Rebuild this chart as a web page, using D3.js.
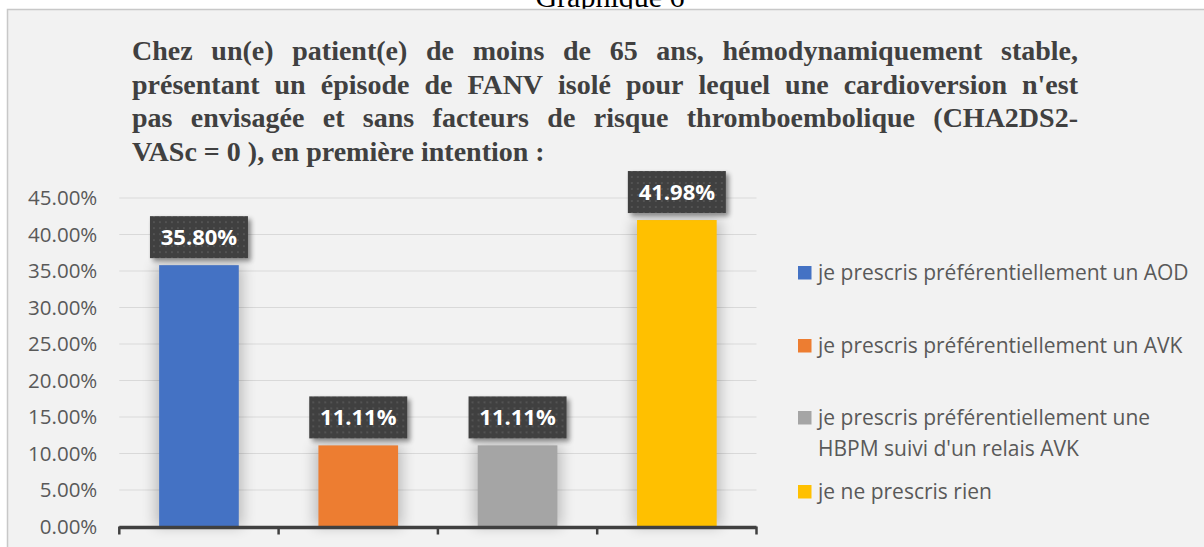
<!DOCTYPE html>
<html>
<head>
<meta charset="utf-8">
<script src="https://cdn.jsdelivr.net/npm/d3@7"></script>
<style>
  body { margin: 0; background: #fff; }
  svg { display: block; }
</style>
</head>
<body>
<div id="chart"></div>
<script>
// data
var categories = [
    "je prescris préférentiellement un AOD",
    "je prescris préférentiellement un AVK",
    "je prescris préférentiellement une HBPM suivi d'un relais AVK",
    "je ne prescris rien"
];
var values = [35.80, 11.11, 11.11, 41.98];
var legendLines = [
    ["je prescris préférentiellement un AOD"],
    ["je prescris préférentiellement un AVK"],
    ["je prescris préférentiellement une", "HBPM suivi d'un relais AVK"],
    ["je ne prescris rien"]
];
var yTicks = [0, 5, 10, 15, 20, 25, 30, 35, 40, 45];
var colors = ["#4472c4", "#ed7d31", "#a5a5a5", "#ffc000"];
var titleLines = [
    "Chez un(e) patient(e) de moins de 65 ans, hémodynamiquement stable,",
    "présentant un épisode de FANV isolé pour lequel une cardioversion n'est",
    "pas envisagée et sans facteurs de risque thromboembolique (CHA2DS2-",
    "VASc = 0 ), en première intention :"
];
var heading = "Graphique 6";

var W = 1204, H = 547;
var svg = d3.select("#chart").append("svg")
    .attr("width", W)
    .attr("height", H);

var defs = svg.append("defs");

var glow = defs.append("filter").attr("id", "glow")
    .attr("x", "-50%").attr("y", "-20%").attr("width", "200%").attr("height", "140%");
glow.append("feGaussianBlur").attr("in", "SourceGraphic").attr("stdDeviation", 7);

var shadow = defs.append("filter").attr("id", "shadow")
    .attr("x", "-20%").attr("y", "-20%").attr("width", "150%").attr("height", "160%");
shadow.append("feGaussianBlur").attr("in", "SourceAlpha").attr("stdDeviation", 2.5).attr("result", "b");
shadow.append("feOffset").attr("in", "b").attr("dx", 3).attr("dy", 3).attr("result", "o");
shadow.append("feComponentTransfer").attr("in", "o").attr("result", "s")
    .append("feFuncA").attr("type", "linear").attr("slope", 0.45);
var fm = shadow.append("feMerge");
fm.append("feMergeNode").attr("in", "s");
fm.append("feMergeNode").attr("in", "SourceGraphic");

var dots = defs.append("pattern").attr("id", "dots")
    .attr("width", 6).attr("height", 6).attr("patternUnits", "userSpaceOnUse");
dots.append("rect").attr("width", 6).attr("height", 6).attr("fill", "#404040");
dots.append("circle").attr("cx", 3).attr("cy", 3).attr("r", 0.9).attr("fill", "#5a5a5a");

// page heading, clipped by the top of the window (as in the source)
svg.append("text")
    .attr("x", 610).attr("y", 7)
    .attr("text-anchor", "middle")
    .style("font-family", "'Liberation Serif', 'Times New Roman', serif")
    .style("font-size", "30px")
    .attr("fill", "#000")
    .text(heading);

// chart area
svg.append("rect")
    .attr("x", 7.5).attr("y", 9.5)
    .attr("width", W + 10).attr("height", H + 10)
    .attr("fill", "#f2f2f2")
    .attr("stroke", "#c8c8c8")
    .attr("stroke-width", 1.5);

// justified title
var titleLeft = 132, titleRight = 1078;
var titleG = svg.append("g")
    .style("font-family", "'Liberation Serif', 'Times New Roman', serif")
    .style("font-size", "28px")
    .style("font-weight", "bold")
    .attr("fill", "#404040");

titleLines.forEach(function(line, i){
    var y = 60 + i * 33.7;
    var words = line.split(" ");
    var nodes = words.map(function(w){
        return titleG.append("text").attr("y", y).text(w);
    });
    var widths = nodes.map(function(n){ return n.node().getComputedTextLength(); });
    var total = d3.sum(widths);
    var last = i === titleLines.length - 1;
    var space = last ? 7 : (titleRight - titleLeft - total) / (words.length - 1);
    var x = titleLeft;
    nodes.forEach(function(n, j){
        n.attr("x", x);
        x += widths[j] + space;
    });
});

// plot
var plot = {left: 119.3, right: 756.5, top: 198, bottom: 526.5};

var x = d3.scaleBand()
    .domain(categories)
    .range([plot.left, plot.right])
    .paddingInner(0.5)
    .paddingOuter(0.25);

var y = d3.scaleLinear()
    .domain([0, 45])
    .range([plot.bottom, plot.top]);

// gridlines
svg.append("g")
    .selectAll("line")
    .data(yTicks.slice(1))
    .join("line")
    .attr("x1", plot.left).attr("x2", plot.right)
    .attr("y1", function(d){ return y(d); })
    .attr("y2", function(d){ return y(d); })
    .attr("stroke", "#d9d9d9")
    .attr("stroke-width", 1.2);

// y axis labels
var yAxis = svg.append("g")
    .attr("transform", "translate(" + (plot.left - 22) + ",0)")
    .call(d3.axisLeft(y).tickValues(yTicks).tickSize(0).tickPadding(0)
        .tickFormat(function(d){ return d3.format(".2f")(d) + "%"; }));
yAxis.select(".domain").remove();
yAxis.selectAll("text")
    .style("font-family", "'Open Sans', sans-serif")
    .style("font-size", "20.5px")
    .attr("fill", "#595959");

// soft glow behind bars
svg.append("g")
    .selectAll("rect")
    .data(values)
    .join("rect")
    .attr("x", function(d, i){ return x(categories[i]) - 4; })
    .attr("width", x.bandwidth() + 8)
    .attr("y", function(d){ return y(d); })
    .attr("height", function(d){ return y(0) - y(d); })
    .attr("fill", "#000")
    .attr("opacity", 0.22)
    .attr("filter", "url(#glow)");

// bars
svg.append("g")
    .selectAll("rect")
    .data(values)
    .join("rect")
    .attr("x", function(d, i){ return x(categories[i]); })
    .attr("width", x.bandwidth())
    .attr("y", function(d){ return y(d); })
    .attr("height", function(d){ return y(0) - y(d); })
    .attr("fill", function(d, i){ return colors[i]; });

// x axis line + boundary ticks
var step = x.step();
var bounds = d3.range(categories.length + 1).map(function(i){
    return x(categories[0]) - step * 0.25 + i * step;
});
var xAxis = svg.append("g").attr("stroke", "#404040");
xAxis.append("line")
    .attr("x1", plot.left).attr("x2", plot.right)
    .attr("y1", plot.bottom + 1).attr("y2", plot.bottom + 1)
    .attr("stroke-width", 3.5);
xAxis.selectAll(".tick")
    .data(bounds)
    .join("line")
    .attr("x1", function(d){ return d; })
    .attr("x2", function(d){ return d; })
    .attr("y1", plot.bottom).attr("y2", plot.bottom + 8)
    .attr("stroke-width", 2.5);

// data labels
var labels = svg.append("g")
    .selectAll("g")
    .data(values)
    .join("g")
    .attr("transform", function(d, i){
        return "translate(" + (x(categories[i]) + x.bandwidth() / 2) + "," + (y(d) - 28) + ")";
    });
labels.append("rect")
    .attr("x", -49).attr("y", -21)
    .attr("width", 98).attr("height", 42)
    .attr("fill", "url(#dots)")
    .attr("filter", "url(#shadow)");
labels.append("text")
    .attr("text-anchor", "middle")
    .attr("dy", "0.36em")
    .style("font-family", "'Open Sans', sans-serif")
    .style("font-size", "22px")
    .style("font-weight", "bold")
    .attr("fill", "#fff")
    .text(function(d){ return d3.format(".2f")(d) + "%"; });

// legend
var legendY = [273, 346, 418, 492];
var legend = svg.append("g")
    .selectAll("g")
    .data(legendLines)
    .join("g")
    .attr("transform", function(d, i){ return "translate(798," + legendY[i] + ")"; });
legend.append("rect")
    .attr("x", 0).attr("y", -7)
    .attr("width", 13.5).attr("height", 13.5)
    .attr("fill", function(d, i){ return colors[i]; });
legend.append("text")
    .style("font-family", "'Open Sans', sans-serif")
    .style("font-size", "21px")
    .attr("fill", "#595959")
    .selectAll("tspan")
    .data(function(d){ return d; })
    .join("tspan")
    .attr("x", 20)
    .attr("y", function(d, j){ return j * 31; })
    .attr("dy", "0.35em")
    .text(function(d){ return d; });
</script>
</body>
</html>
